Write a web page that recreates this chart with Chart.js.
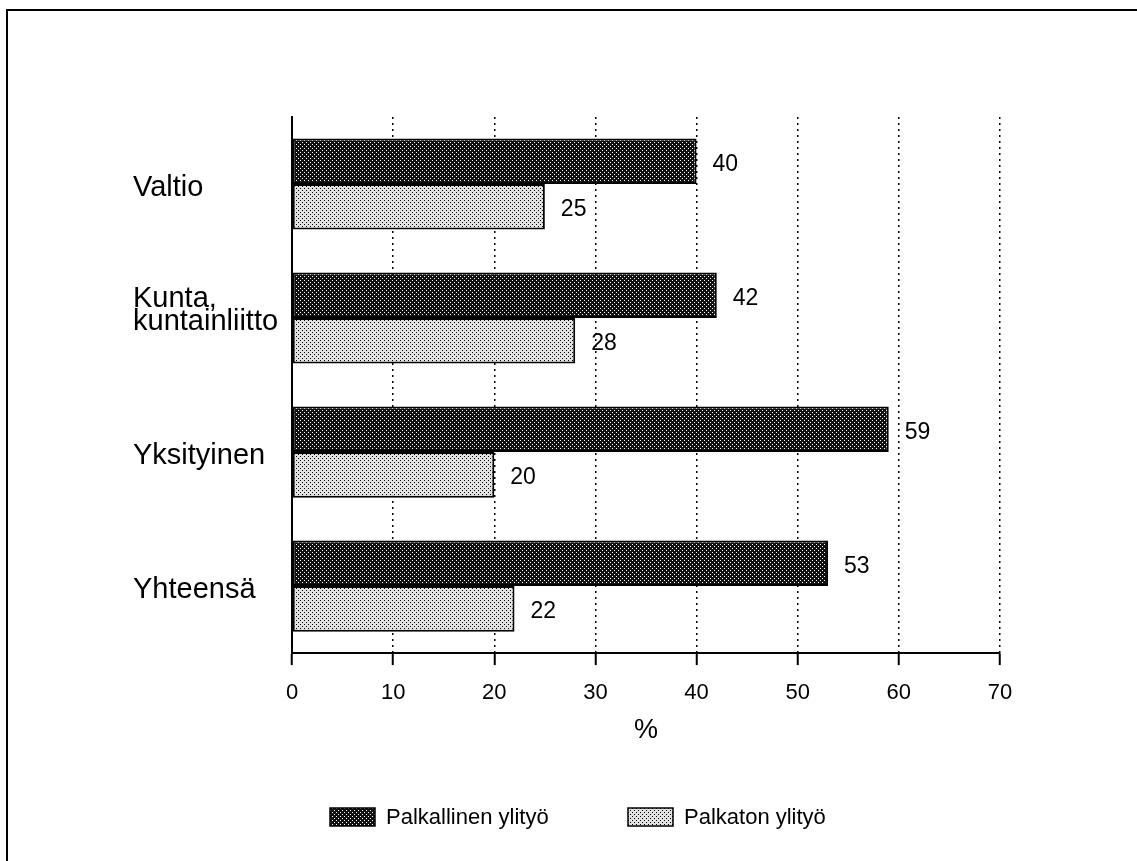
<!DOCTYPE html>
<html>
<head>
<meta charset="utf-8">
<script src="https://cdn.jsdelivr.net/npm/chart.js@4/dist/chart.umd.min.js"></script>
<style>
  html, body { margin: 0; padding: 0; background: #fff; }
  #wrap { width: 1137px; height: 861px; }
</style>
</head>
<body>
<div id="wrap"><canvas id="myChart" width="1137" height="861"></canvas></div>
<script>
// Categories (sectors), the empty line lifts the two-line label like in the original
const categories = ["Valtio", ["Kunta,", "kuntainliitto", ""], "Yksityinen", "Yhteensä"];

// Series values, %
const paidOvertime = [40, 42, 59, 53];
const unpaidOvertime = [25, 28, 20, 22];

const seriesNames = ["Palkallinen ylityö", "Palkaton ylityö"];
const xTicks = [0, 10, 20, 30, 40, 50, 60, 70];
const xTitle = "%";

const FONT = "'Liberation Sans', Arial, Helvetica, sans-serif";

// Dot screen patterns like the printed original
function makePattern(bg, fg, dots) {
  const c = document.createElement("canvas");
  c.width = 4;
  c.height = 4;
  const g = c.getContext("2d");
  g.fillStyle = bg;
  g.fillRect(0, 0, 4, 4);
  g.fillStyle = fg;
  dots.forEach((d) => g.fillRect(d[0], d[1], 1, 1));
  return g.createPattern(c, "repeat");
}
const ctx = document.getElementById("myChart").getContext("2d");
const darkFill = makePattern("#111", "#fff", [[0, 0], [2, 2]]);
const lightFill = makePattern("#e2e2e2", "#000", [[0, 0], [2, 2]]);

// Frame lines of the original figure (top and left)
const framePlugin = {
  id: "frame",
  afterDraw(chart) {
    const c = chart.ctx;
    c.save();
    c.strokeStyle = "#000";
    c.lineWidth = 2;
    c.beginPath();
    c.moveTo(1137, 10);
    c.lineTo(7, 10);
    c.lineTo(7, 861);
    c.stroke();
    c.restore();
  },
};

// Value labels at bar ends
const valueLabels = {
  id: "valueLabels",
  afterDatasetsDraw(chart) {
    const c = chart.ctx;
    c.save();
    c.font = "23px " + FONT;
    c.fillStyle = "#000";
    c.textBaseline = "middle";
    c.textAlign = "left";
    chart.data.datasets.forEach((ds, i) => {
      chart.getDatasetMeta(i).data.forEach((bar, j) => {
        c.fillText(ds.data[j], bar.x + 16, bar.y + 3);
      });
    });
    c.restore();
  },
};

// Legend under the axis title
const legendPlugin = {
  id: "customLegend",
  afterDraw(chart) {
    const c = chart.ctx;
    const starts = [330, 628];
    const top = 808;
    c.save();
    c.font = "22px " + FONT;
    c.textBaseline = "middle";
    chart.data.datasets.forEach((ds, i) => {
      const x = starts[i];
      c.fillStyle = ds.backgroundColor;
      c.fillRect(x, top, 45, 18);
      c.strokeStyle = "#000";
      c.lineWidth = 1.5;
      c.strokeRect(x, top, 45, 18);
      c.fillStyle = "#000";
      c.fillText(ds.label, x + 56, top + 10);
    });
    c.restore();
  },
};

const data = {
  labels: categories,
  datasets: [
    {
      label: seriesNames[0],
      data: paidOvertime,
      backgroundColor: darkFill,
      borderColor: "#000",
      borderWidth: 2,
      borderSkipped: false,
      barPercentage: 1,
      categoryPercentage: 0.68,
    },
    {
      label: seriesNames[1],
      data: unpaidOvertime,
      backgroundColor: lightFill,
      borderColor: "#000",
      borderWidth: 2,
      borderSkipped: false,
      barPercentage: 1,
      categoryPercentage: 0.68,
    },
  ],
};

const config = {
  type: "bar",
  data: data,
  options: {
    indexAxis: "y",
    responsive: false,
    animation: false,
    layout: {
      padding: { top: 117, left: 133, right: 137, bottom: 121 },
    },
    plugins: {
      legend: { display: false },
      tooltip: { enabled: false },
    },
    scales: {
      x: {
        min: 0,
        max: 70,
        afterBuildTicks: (scale) => {
          scale.ticks = xTicks.map((v) => ({ value: v }));
        },
        grid: {
          color: "#000",
          lineWidth: 1.5,
          tickLength: 12,
          tickWidth: 2,
          tickBorderDash: [],
        },
        border: { display: true, color: "#000", width: 2, dash: [2, 4] },
        ticks: {
          color: "#000",
          padding: 17,
          maxRotation: 0,
          font: { family: FONT, size: 22, lineHeight: 1.0 },
        },
        title: {
          display: true,
          text: xTitle,
          color: "#000",
          padding: { top: 0, bottom: 0 },
          font: { family: FONT, size: 27, lineHeight: 0.7 },
        },
      },
      y: {
        grid: { display: false },
        border: { display: true, color: "#000", width: 2 },
        afterFit: (scale) => {
          scale.width = 159;
        },
        ticks: {
          color: "#000",
          crossAlign: "far",
          labelOffset: 4,
          font: { family: FONT, size: 29, lineHeight: 0.78 },
        },
      },
    },
  },
  plugins: [framePlugin, valueLabels, legendPlugin],
};

const myChart = new Chart(ctx, config);
</script>
</body>
</html>
